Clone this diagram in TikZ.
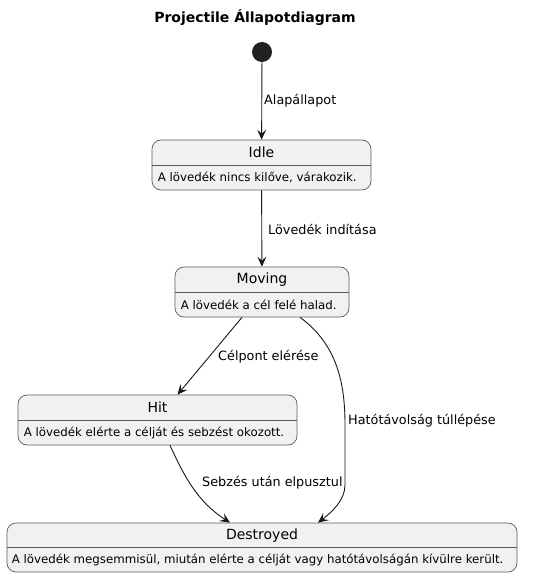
\documentclass[tikz,border=0pt]{standalone}
\usepackage{fontspec}
\setmainfont{DejaVu Sans}
\usetikzlibrary{arrows.meta,positioning}
\definecolor{statefill}{HTML}{F1F1F1}
\definecolor{stateborder}{HTML}{5B5B5B}
\definecolor{arrowcol}{HTML}{181818}
\definecolor{startcol}{HTML}{222222}

\begin{document}
\begin{tikzpicture}[x=1pt,y=-1pt,
				state/.style ={rectangle, draw=stateborder, fill=statefill,
					rounded corners=9pt, line width=0.7pt, inner sep=0pt},
				title/.style ={font=\fontsize{14}{16}\selectfont, inner sep=0pt},
				desc/.style ={font=\fontsize{11.8}{14}\selectfont, anchor=west, inner sep=0pt},
				lbl/.style ={font=\fontsize{12.8}{15}\selectfont, anchor=west, inner sep=0pt},
				sep/.style ={draw=stateborder, line width=0.7pt},
				line/.style ={draw=arrowcol, line width=0.9pt,
					-{Stealth[length=10pt,width=9pt,inset=4pt]}}]
				\useasboundingbox (0,0) rectangle (533,577);
				% diagram title
				\node [font=\fontsize{14}{16}\selectfont\bfseries] (heading) at (255,18) {Projectile Állapotdiagram};
				% initial state
				\node [circle, fill=startcol, minimum size=20pt, inner sep=0pt] (start) at (262,52) {};
				% state Idle
				\node [state, minimum width=219pt, minimum height=50pt] (idle) at (261.5,165) {};
				\node [title] (idleTitle) at ([yshift=-13pt]idle.north) {Idle};
				\path [sep] ([yshift=-26pt]idle.north west) -- ([yshift=-26pt]idle.north east);
				\node [desc] (idleDesc) at ([xshift=6pt,yshift=-38pt]idle.north west) {A lövedék nincs kilőve, várakozik.};
				% state Moving
				\node [state, minimum width=174pt, minimum height=50pt] (moving) at (262,292) {};
				\node [title] (movingTitle) at ([yshift=-13pt]moving.north) {Moving};
				\path [sep] ([yshift=-26pt]moving.north west) -- ([yshift=-26pt]moving.north east);
				\node [desc] (movingDesc) at ([xshift=6pt,yshift=-38pt]moving.north west) {A lövedék a cél felé halad.};
				% state Hit
				\node [state, minimum width=279pt, minimum height=50pt] (hit) at (157.5,420) {};
				\node [title] (hitTitle) at ([yshift=-13pt]hit.north) {Hit};
				\path [sep] ([yshift=-26pt]hit.north west) -- ([yshift=-26pt]hit.north east);
				\node [desc] (hitDesc) at ([xshift=6pt,yshift=-38pt]hit.north west) {A lövedék elérte a célját és sebzést okozott.};
				% state Destroyed
				\node [state, minimum width=510pt, minimum height=49pt] (destroyed) at (262,547.5) {};
				\node [title] (destroyedTitle) at ([yshift=-13pt]destroyed.north) {Destroyed};
				\path [sep] ([yshift=-25pt]destroyed.north west) -- ([yshift=-25pt]destroyed.north east);
				\node [desc] (destroyedDesc) at ([xshift=5pt,yshift=-37pt]destroyed.north west) {A lövedék megsemmisül, miután elérte a célját vagy hatótávolságán kívülre került.};
				% transitions
				\path [line] (start) -- (idle);
				\path [line] (idle) -- (moving);
				\path [line] ([xshift=-20pt]moving.south) -- ([xshift=20pt]hit.north);
				\path [line] ([xshift=38pt]moving.south) .. controls (338,345) and (345,385) .. (345,425)
					-- (345,485) .. controls (345,500) and (332,512) .. ([xshift=56pt]destroyed.north);
				\path [line] ([xshift=12.5pt]hit.south) .. controls (185,478) and (198,502) .. ([xshift=-32pt]destroyed.north);
				% transition labels
				\node [lbl] (startLbl) at (264,101) {Alapállapot};
				\node [lbl] (idleLbl) at (268,229) {Lövedék indítása};
				\node [lbl] (hitLbl) at (218,357) {Célpont elérése};
				\node [lbl] (rangeLbl) at (348,421) {Hatótávolság túllépése};
				\node [lbl] (damageLbl) at (202,483) {Sebzés után elpusztul};
			\end{tikzpicture}
\end{document}
